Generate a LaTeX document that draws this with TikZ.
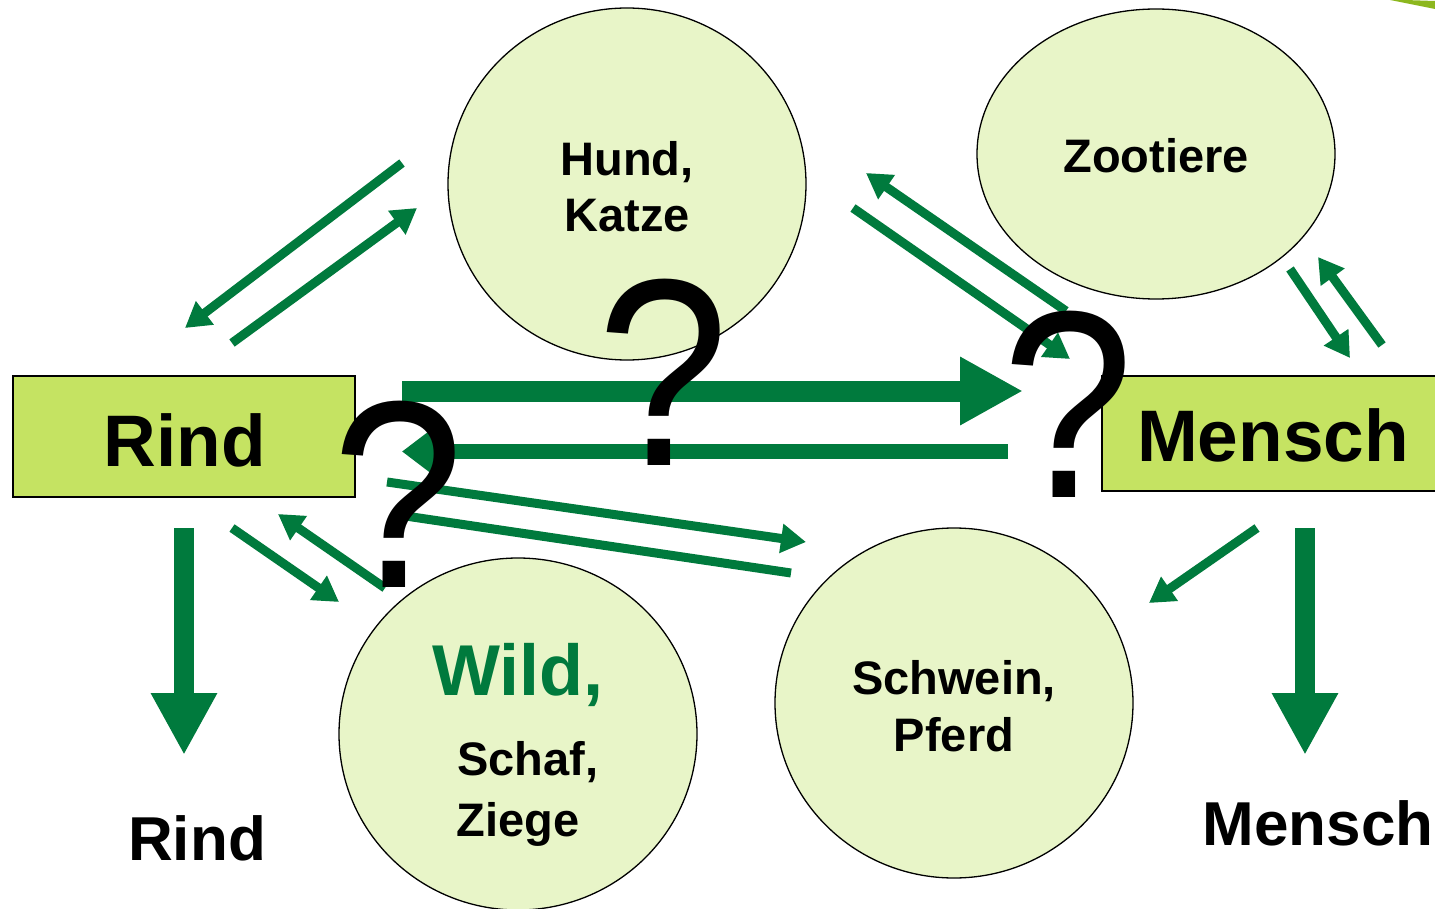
\documentclass[tikz,border=0pt]{standalone}
\usepackage{fontspec}
\setmainfont{Liberation Sans}
\usetikzlibrary{shapes.geometric,arrows.meta}
\definecolor{arrowgreen}{RGB}{0,122,61}
\definecolor{boxgreen}{RGB}{197,227,98}
\definecolor{circlegreen}{RGB}{232,245,200}
\definecolor{swoosh}{RGB}{140,183,30}

\begin{document}
\begin{tikzpicture}[x=1pt,y=-1pt,
  blob/.style={ellipse, draw=black, line width=1.3pt, fill=circlegreen, inner sep=0pt},
  hostbox/.style={rectangle, draw=black, line width=1.3pt, fill=boxgreen, inner sep=0pt},
  lbl/.style={anchor=base, inner sep=0pt, align=center, font=\bfseries\fontsize{47}{50}\selectfont},
  hostlbl/.style={anchor=base, inner sep=0pt, font=\bfseries\fontsize{73}{80}\selectfont},
  outlbl/.style={anchor=base, inner sep=0pt, font=\bfseries\fontsize{62}{70}\selectfont},
  qmark/.style={anchor=base, inner sep=0pt, xscale=0.885, font=\fontsize{267}{267}\selectfont},
  thinarrow/.style={draw=arrowgreen, line width=9pt, -{Triangle[length=25pt,width=28pt]}},
  thinline/.style={draw=arrowgreen, line width=9pt},
  bigarrow/.style={draw=arrowgreen, line width=21pt, -{Triangle[length=63pt,width=64pt]}},
  backarrow/.style={draw=arrowgreen, line width=15pt, -{Triangle[length=32pt,width=46pt]}},
  downarrow/.style={draw=arrowgreen, line width=20pt, -{Triangle[length=62pt,width=62pt]}}
]
\clip (0,0) rectangle (1435,909);
\fill[white] (0,0) rectangle (1435,909);

% decorative swoosh in the corner
\fill[swoosh] (1390,0) .. controls (1405,3) and (1420,6) .. (1435,9)
  -- (1435,1) .. controls (1420,0) .. (1405,0) -- cycle;

% host circles
\node[blob, minimum width=358pt, minimum height=352pt] (hund) at (627,184) {};
\node[blob, minimum width=358pt, minimum height=290pt] (zoo) at (1156,154) {};
\node[blob, minimum width=358pt, minimum height=352pt] (wild) at (518,734) {};
\node[blob, minimum width=358pt, minimum height=350pt] (schwein) at (954,703) {};

% main boxes
\node[hostbox, minimum width=342pt, minimum height=121pt] (rind) at (184,436.5) {};
\node[hostbox, minimum width=345pt, minimum height=115pt] (mensch) at (1274.5,433.5) {};

% arrow end points
\coordinate (a1s) at (402,163);  \coordinate (a1e) at (185,328);
\coordinate (a2s) at (232,343);  \coordinate (a2e) at (417,208);
\coordinate (a3s) at (853,208);  \coordinate (a3e) at (1070,359);
\coordinate (a4s) at (1066,311); \coordinate (a4e) at (866,173);
\coordinate (a5s) at (1290,269); \coordinate (a5e) at (1350,358);
\coordinate (a6s) at (1382,345); \coordinate (a6e) at (1318,257);
\coordinate (a7s) at (1257,528); \coordinate (a7e) at (1149,603);
\coordinate (a8s) at (232,528);  \coordinate (a8e) at (339,602);
\coordinate (a9s) at (385,588);  \coordinate (a9e) at (278,514);
\coordinate (a10s) at (387,482); \coordinate (a10e) at (806,542);
\coordinate (a11s) at (791,573); \coordinate (a11e) at (392,514);
\coordinate (b1s) at (402,391);  \coordinate (b1e) at (1023,391);
\coordinate (b2s) at (1008,451.5); \coordinate (b2e) at (402,451.5);
\coordinate (d1s) at (184,528);  \coordinate (d1e) at (184,755);
\coordinate (d2s) at (1305,528); \coordinate (d2e) at (1305,755);

% transmission arrows
\draw[thinarrow] (a1s) -- (a1e);
\draw[thinarrow] (a2s) -- (a2e);
\draw[thinarrow] (a3s) -- (a3e);
\draw[thinarrow] (a4s) -- (a4e);
\draw[thinarrow] (a5s) -- (a5e);
\draw[thinarrow] (a6s) -- (a6e);
\draw[thinarrow] (a7s) -- (a7e);
\draw[thinarrow] (a8s) -- (a8e);
\draw[thinarrow] (a9s) -- (a9e);
\draw[thinarrow] (a10s) -- (a10e);
\draw[thinline] (a11s) -- (a11e);
\draw[bigarrow] (b1s) -- (b1e);
\draw[backarrow] (b2s) -- (b2e);
\draw[downarrow] (d1s) -- (d1e);
\draw[downarrow] (d2s) -- (d2e);

% labels
\node[lbl] (thund) at (627,176) {Hund,};
\node[lbl] (tkatze) at (627,232) {Katze};
\node[lbl] (tzoo) at (1156,173) {Zootiere};
\node[anchor=base, inner sep=0pt, text=arrowgreen, font=\bfseries\fontsize{72}{80}\selectfont] (twild) at (518,695) {Wild,};
\node[lbl] (tschaf) at (528,775) {Schaf,};
\node[lbl] (tziege) at (518,836) {Ziege};
\node[lbl] (tschwein) at (954,694) {Schwein,};
\node[lbl] (tpferd) at (954,751) {Pferd};
\node[hostlbl] (trind) at (185,466) {Rind};
\node[hostlbl] (tmensch) at (1273,461) {Mensch};
\node[outlbl] (orind) at (197,860) {Rind};
\node[outlbl] (omensch) at (1318,845) {Mensch};

% open questions
\node[qmark] (q1) at (663,465) {?};
\node[qmark] (q2) at (1068,497) {?};
\node[qmark] (q3) at (398,587) {?};
\end{tikzpicture}
\end{document}
